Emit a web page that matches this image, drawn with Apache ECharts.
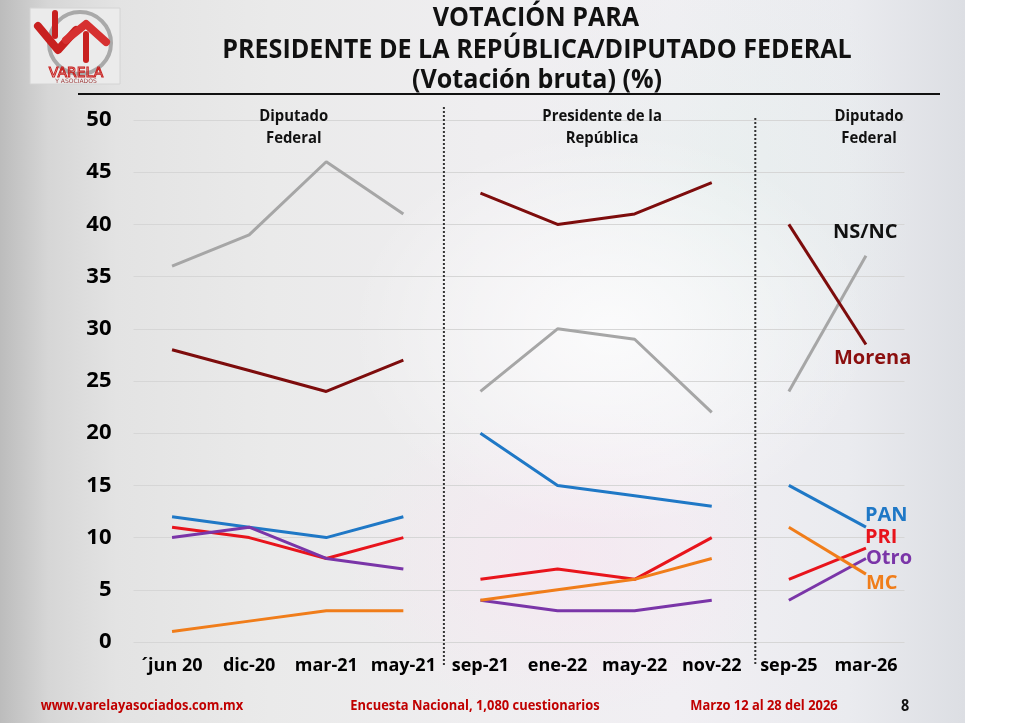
<!DOCTYPE html>
<html>
<head>
<meta charset="utf-8">
<script src="https://cdn.jsdelivr.net/npm/echarts@6/dist/echarts.min.js"></script>
<style>
    html, body { margin: 0; padding: 0; width: 1024px; height: 723px; overflow: hidden; background: #fff; }
    #bg {
        position: absolute; left: 0; top: 0; width: 965px; height: 723px;
        background:
            radial-gradient(ellipse 260px 200px at 610px 330px, rgba(255,255,255,0.75), rgba(255,255,255,0) 100%),
            radial-gradient(ellipse 220px 160px at 560px 560px, rgba(250,225,240,0.45), rgba(250,225,240,0) 100%),
            radial-gradient(ellipse 200px 260px at 720px 200px, rgba(225,240,235,0.45), rgba(225,240,235,0) 100%),
            linear-gradient(90deg, #bcbcbc 0%, #d6d6d6 5%, #e3e3e3 12%, #eaeaea 28%, #efeef0 50%, #f1eff3 70%, #eaebef 88%, #dcdee3 100%);
    }
    #main { position: absolute; left: 0; top: 0; width: 1024px; height: 723px; }
</style>
</head>
<body>
<div id="bg"></div>
<div id="main"></div>
<script>
const categories = ['´jun 20', 'dic-20', 'mar-21', 'may-21', 'sep-21', 'ene-22', 'may-22', 'nov-22', 'sep-25', 'mar-26']
const yTicks = { min: 0, max: 50, step: 5 }

// tres periodos separados por linea punteada
const segments = [[0, 3], [4, 7], [8, 9]]
const sectionTitles = ['Diputado\nFederal', 'Presidente de la\nRepública', 'Diputado\nFederal']

const nsnc = [36, 39, 46, 41, 24, 30, 29, 22, 24, 37]
const morena = [28, 26, 24, 27, 43, 40, 41, 44, 40, 28.5]
const pan = [12, 11, 10, 12, 20, 15, 14, 13, 15, 11]
const pri = [11, 10, 8, 10, 6, 7, 6, 10, 6, 9]
const otro = [10, 11, 8, 7, 4, 3, 3, 4, 4, 8]
const mc = [1, 2, 3, 3, 4, 5, 6, 8, 11, 6.5]

const parties = [
    { name: 'NS/NC', data: nsnc, color: '#a6a6a6', labelColor: '#111', offset: [-33, -23] },
    { name: 'Morena', data: morena, color: '#7d0c0c', labelColor: '#8b0f0f', offset: [-32, 14] },
    { name: 'PAN', data: pan, color: '#1f78c6', labelColor: '#1f78c6', offset: [-1, -12] },
    { name: 'PRI', data: pri, color: '#e8141c', labelColor: '#e8141c', offset: [-1, -11] },
    { name: 'Otro', data: otro, color: '#7a35a8', labelColor: '#7a35a8', offset: [0, 0] },
    { name: 'MC', data: mc, color: '#f07d1a', labelColor: '#f07d1a', offset: [0, 9] },
]

const font = '"Open Sans", "DejaVu Sans", sans-serif'

const buildSeries = () => {
    const list = []
    parties.forEach(p => {
        segments.forEach(([a, b], si) => {
            const isLast = si === segments.length - 1
            list.push({
                name: p.name,
                type: 'line',
                data: p.data.map((v, i) => (i < a || i > b) ? null : v),
                symbol: 'none',
                showSymbol: false,
                connectNulls: false,
                silent: true,
                z: 3,
                lineStyle: { color: p.color, width: 3 },
                itemStyle: { color: p.color },
                endLabel: {
                    show: isLast,
                    formatter: p.name,
                    distance: 0,
                    offset: p.offset,
                    align: 'left',
                    verticalAlign: 'middle',
                    color: p.labelColor,
                    fontFamily: font,
                    fontWeight: 'bold',
                    fontSize: 20,
                },
            })
        })
    })
    return list
}

const chart = echarts.init(document.getElementById('main'), null, { renderer: 'canvas' })

chart.setOption({
    backgroundColor: 'transparent',
    animation: false,
    grid: { left: 133.5, right: 119.5, top: 120, bottom: 81 },
    xAxis: {
        type: 'category',
        data: categories,
        boundaryGap: true,
        axisLine: { show: false },
        axisTick: { show: false },
        axisLabel: { interval: 0, hideOverlap: false, color: '#000', fontFamily: font, fontWeight: 'bold', fontSize: 18, margin: 15 },
    },
    yAxis: {
        type: 'value',
        min: yTicks.min,
        max: yTicks.max,
        interval: yTicks.step,
        axisLine: { show: false },
        axisTick: { show: false },
        axisLabel: { color: '#000', fontFamily: font, fontWeight: 'bold', fontSize: 22, margin: 22 },
        splitLine: { lineStyle: { color: '#d6d6d6', width: 1 } },
    },
    series: buildSeries(),
})

// posiciones derivadas del eje
const px = (i) => chart.convertToPixel({ xAxisIndex: 0 }, i)
const py = (v) => chart.convertToPixel({ yAxisIndex: 0 }, v)

const sep1 = (px(3) + px(4)) / 2 + 2
const sep2 = (px(7) + px(8)) / 2 + 5
const head1 = (px(1) + px(2)) / 2 + 6
const head2 = (px(5) + px(6)) / 2 + 6
const head3 = px(9) + 3
const yTop = py(50)
const yBottom = py(0)

const text = (str, x, y, size, sx, color, extra) => ({
    type: 'text',
    x: x,
    y: y,
    scaleX: sx,
    style: Object.assign({
        text: str,
        font: `bold ${size}px ${font}`,
        fill: color,
        align: 'center',
        verticalAlign: 'middle',
    }, extra || {}),
})

const redLogo = '#c8201f'

chart.setOption({
    graphic: [
        // logo
        { type: 'rect', shape: { x: 30, y: 8, width: 90, height: 76 }, style: { fill: '#ebebeb', stroke: '#d4d4d4' } },
        { type: 'circle', shape: { cx: 80, cy: 43, r: 31 }, style: { fill: 'none', stroke: '#a9a9a9', lineWidth: 4 } },
        { type: 'polyline', shape: { points: [[38, 26], [58, 50], [76, 30]] }, style: { stroke: redLogo, lineWidth: 8, fill: 'none', lineCap: 'round', lineJoin: 'round' } },
        { type: 'polyline', shape: { points: [[66, 40], [86, 24], [106, 42]] }, style: { stroke: '#d63030', lineWidth: 8, fill: 'none', lineCap: 'round', lineJoin: 'round' } },
        { type: 'line', shape: { x1: 55, y1: 13, x2: 55, y2: 36 }, style: { stroke: redLogo, lineWidth: 6, lineCap: 'round' } },
        { type: 'line', shape: { x1: 86, y1: 34, x2: 86, y2: 60 }, style: { stroke: redLogo, lineWidth: 6, lineCap: 'round' } },
        { type: 'text', x: 76, y: 73, style: { text: 'VARELA', font: `14px "DejaVu Sans", sans-serif`, fill: 'none', stroke: redLogo, lineWidth: 1, align: 'center', verticalAlign: 'middle' } },
        { type: 'text', x: 76, y: 81, style: { text: 'Y ASOCIADOS', font: `6px "DejaVu Sans", sans-serif`, fill: '#a04040', align: 'center', verticalAlign: 'middle' } },

        // titulo
        text('VOTACIÓN PARA', 536, 18, 27, 0.93, '#111'),
        text('PRESIDENTE DE LA REPÚBLICA/DIPUTADO FEDERAL', 537, 50, 27, 0.93, '#111'),
        text('(Votación bruta) (%)', 537, 80, 27, 0.93, '#111'),
        { type: 'line', shape: { x1: 78, y1: 94, x2: 940, y2: 94 }, style: { stroke: '#111', lineWidth: 2 } },

        // separadores punteados
        { type: 'line', shape: { x1: sep1, y1: yTop - 13, x2: sep1, y2: yBottom + 23 }, style: { stroke: '#333', lineWidth: 2, lineDash: [2, 2] } },
        { type: 'line', shape: { x1: sep2, y1: yTop - 2, x2: sep2, y2: yBottom + 23 }, style: { stroke: '#333', lineWidth: 2, lineDash: [2, 2] } },

        text(sectionTitles[0], head1, yTop + 7, 16, 0.93, '#111', { lineHeight: 22 }),
        text(sectionTitles[1], head2, yTop + 7, 16, 0.93, '#111', { lineHeight: 22 }),
        text(sectionTitles[2], head3, yTop + 7, 16, 0.93, '#111', { lineHeight: 22 }),

        // pie de pagina
        text('www.varelayasociados.com.mx', 142, 706, 15, 0.86, '#c00000'),
        text('Encuesta Nacional, 1,080 cuestionarios', 475, 706, 15, 0.86, '#c00000'),
        text('Marzo 12 al 28 del 2026', 764, 706, 15, 0.86, '#c00000'),
        text('8', 905, 706, 16, 0.9, '#111'),
    ],
})
</script>
</body>
</html>
